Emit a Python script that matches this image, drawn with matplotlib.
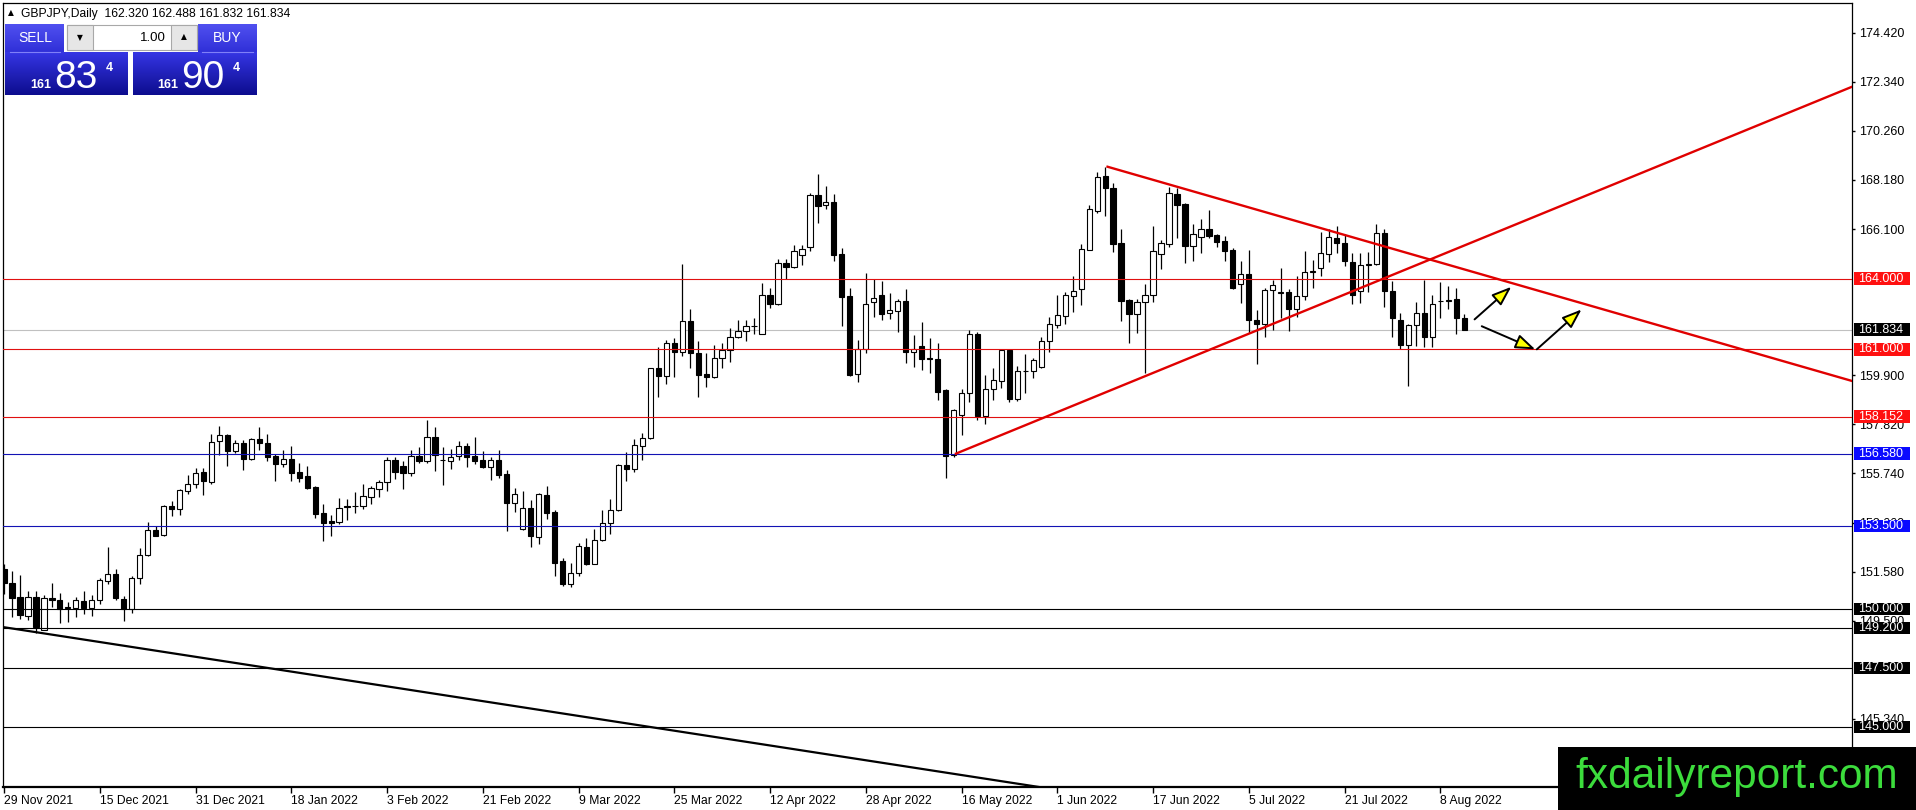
import matplotlib
matplotlib.use('Agg')
import matplotlib.pyplot as plt
import matplotlib.transforms as mtransforms
from matplotlib.patches import Rectangle
from matplotlib.colors import to_rgb
import numpy as np

plt.rcParams['font.family'] = ['Liberation Sans', 'DejaVu Sans']

symbol_info = 'GBPJPY,Daily  162.320 162.488 161.832 161.834'

# daily OHLC, 29 Nov 2021 .. 11 Aug 2022
opens = [151.70, 151.11, 150.49, 149.71, 150.50, 149.12, 150.47, 150.39, 150.08, 150.05,
         150.32, 150.02, 150.39, 151.18, 151.46, 150.43, 150.01, 151.32, 152.28, 153.36,
         153.13, 154.38, 154.25, 155.00, 155.31, 155.80, 155.39, 157.12, 157.37, 156.71,
         157.02, 156.34, 157.18, 157.01, 156.47, 156.16, 156.37, 155.79, 155.62, 155.17,
         154.08, 153.71, 153.68, 154.35, 154.35, 154.36, 154.76, 155.10, 155.37, 156.33,
         156.04, 155.78, 156.47, 156.27, 157.29, 156.33, 156.27, 156.48, 156.89, 156.47,
         156.33, 156.02, 156.30, 155.73, 154.50, 153.40, 154.29, 153.05, 154.84, 154.11,
         152.02, 151.07, 151.53, 152.62, 151.91, 152.93, 153.66, 154.18, 156.09, 155.94,
         156.91, 157.26, 160.19, 159.88, 161.29, 160.89, 162.19, 160.86, 159.97, 159.83,
         160.65, 160.99, 161.54, 161.78, 161.98, 161.66, 163.32, 162.91, 164.64, 164.50,
         165.02, 165.32, 167.54, 167.10, 167.23, 165.06, 163.25, 159.97, 161.03, 162.99,
         163.30, 162.52, 162.63, 163.04, 160.89, 161.13, 160.62, 160.61, 159.27, 156.51,
         158.23, 159.13, 161.64, 158.16, 159.30, 159.65, 160.99, 158.91, 160.07, 160.07,
         160.26, 161.36, 162.05, 162.42, 163.27, 163.54, 165.23, 166.87, 168.34, 167.82,
         165.49, 163.08, 162.48, 163.01, 163.32, 165.06, 165.46, 167.58, 167.18, 165.39,
         165.77, 166.12, 165.84, 165.59, 165.20, 163.79, 164.19, 162.24, 162.09, 163.51,
         163.40, 163.44, 162.69, 163.25, 164.27, 164.43, 165.06, 165.74, 165.49, 164.71,
         163.46, 164.58, 164.60, 165.95, 163.46, 162.24, 161.20, 162.05, 162.56, 161.53,
         163.04, 163.04, 163.13, 162.320]
highs = [151.92, 151.59, 151.45, 150.76, 150.76, 150.57, 151.10, 150.67, 150.29, 150.50,
         150.74, 150.57, 151.32, 152.62, 151.70, 150.53, 151.38, 152.58, 153.68, 153.50,
         154.42, 154.56, 155.10, 155.66, 155.99, 155.99, 157.42, 157.74, 157.43, 157.17,
         157.17, 157.26, 157.71, 157.43, 156.58, 156.72, 156.89, 156.20, 156.04, 155.20,
         154.46, 153.99, 154.72, 154.67, 154.94, 155.31, 155.22, 155.45, 156.44, 156.44,
         156.27, 156.72, 156.84, 158.02, 157.71, 156.84, 156.79, 157.10, 157.01, 157.29,
         156.69, 156.44, 156.75, 155.87, 155.14, 154.98, 154.63, 154.91, 155.20, 154.18,
         152.17, 151.96, 152.79, 153.00, 153.37, 154.18, 154.67, 156.13, 156.65, 157.19,
         157.46, 160.23, 161.08, 161.39, 161.46, 164.61, 162.69, 161.34, 160.86, 161.17,
         161.29, 161.92, 162.26, 162.24, 162.31, 163.83, 163.58, 164.82, 164.85, 165.42,
         165.42, 167.61, 168.43, 167.92, 167.58, 165.28, 163.58, 161.39, 164.22, 164.00,
         163.90, 163.37, 163.15, 163.54, 161.60, 162.14, 161.50, 161.29, 159.30, 158.49,
         159.30, 161.84, 161.74, 159.90, 160.19, 161.00, 161.00, 160.29, 160.79, 160.65,
         161.53, 162.35, 163.30, 163.44, 164.10, 165.45, 167.11, 168.50, 168.74, 168.07,
         166.10, 163.15, 163.15, 163.75, 166.22, 165.63, 167.86, 167.82, 167.22, 166.31,
         166.52, 166.90, 165.91, 165.80, 165.30, 164.75, 165.23, 162.66, 163.62, 163.96,
         164.43, 163.54, 164.10, 165.16, 164.78, 165.98, 166.08, 166.22, 165.91, 165.09,
         165.09, 165.13, 166.31, 166.08, 163.89, 162.52, 162.07, 163.01, 163.93, 163.32,
         163.86, 163.68, 163.62, 162.488]
lows = [150.64, 149.65, 149.56, 149.51, 148.99, 149.09, 150.08, 149.40, 149.44, 149.65,
        149.80, 149.68, 150.19, 151.04, 150.39, 149.48, 149.82, 151.07, 152.23, 153.08,
        153.10, 153.94, 153.97, 154.86, 155.14, 154.81, 155.31, 156.51, 156.06, 156.61,
        155.87, 156.30, 156.75, 156.27, 155.42, 156.02, 155.42, 155.38, 155.07, 153.87,
        152.88, 153.08, 153.61, 153.75, 154.07, 154.24, 154.46, 154.74, 155.00, 155.49,
        155.08, 155.63, 156.19, 156.19, 155.85, 155.25, 155.92, 156.30, 156.02, 156.13,
        155.95, 155.48, 155.55, 153.30, 154.11, 153.36, 152.62, 152.76, 153.80, 151.38,
        150.95, 150.93, 151.38, 151.84, 151.89, 152.88, 153.19, 154.15, 155.42, 155.80,
        156.33, 157.22, 158.98, 159.55, 159.83, 160.72, 160.23, 158.98, 159.41, 159.80,
        160.21, 160.47, 161.46, 161.36, 161.63, 161.63, 162.77, 162.90, 164.00, 164.43,
        164.57, 165.18, 166.36, 166.94, 164.75, 162.00, 159.88, 159.62, 160.85, 162.35,
        162.26, 162.28, 161.74, 160.44, 160.26, 160.12, 160.00, 158.84, 155.55, 156.44,
        157.39, 158.77, 158.00, 157.85, 158.84, 159.38, 158.75, 158.80, 159.13, 159.79,
        160.23, 160.89, 161.92, 162.09, 162.59, 162.87, 165.20, 166.80, 166.66, 165.13,
        162.21, 161.27, 161.70, 160.00, 163.01, 164.40, 165.32, 165.74, 164.64, 164.75,
        165.09, 165.70, 165.35, 164.75, 163.54, 162.97, 161.70, 160.36, 161.53, 161.81,
        162.31, 161.78, 162.38, 163.08, 163.61, 164.10, 164.71, 165.09, 164.53, 162.94,
        162.97, 163.44, 164.57, 162.80, 161.53, 161.03, 159.44, 161.15, 161.08, 161.10,
        162.31, 162.69, 161.67, 161.832]
closes = [151.10, 150.47, 149.73, 150.50, 149.23, 150.47, 150.38, 150.01, 150.02, 150.39,
          150.02, 150.39, 151.21, 151.46, 150.46, 150.01, 151.32, 152.30, 153.36, 153.10,
          154.38, 154.24, 155.03, 155.31, 155.78, 155.42, 157.09, 157.37, 156.69, 157.02,
          156.36, 157.18, 157.01, 156.44, 156.16, 156.37, 155.78, 155.55, 155.13, 154.04,
          153.64, 153.66, 154.29, 154.30, 154.38, 154.77, 155.11, 155.37, 156.33, 155.80,
          155.76, 156.47, 156.27, 157.29, 156.54, 156.30, 156.44, 156.89, 156.44, 156.26,
          156.02, 156.30, 155.69, 154.50, 154.88, 154.29, 153.09, 154.86, 154.07, 151.94,
          151.04, 151.53, 152.65, 151.91, 152.93, 153.66, 154.21, 156.09, 155.92, 156.96,
          157.26, 160.19, 159.88, 161.29, 160.89, 162.22, 160.85, 159.93, 159.83, 160.65,
          160.99, 161.54, 161.76, 162.00, 162.01, 163.32, 162.94, 164.64, 164.50, 165.15,
          165.27, 167.54, 167.08, 167.23, 165.01, 163.23, 159.90, 161.03, 162.94, 163.18,
          162.49, 162.66, 163.04, 160.89, 161.03, 160.61, 160.60, 159.20, 156.48, 158.42,
          159.13, 161.64, 158.16, 159.30, 159.72, 160.99, 158.91, 160.07, 160.10, 160.54,
          161.36, 162.07, 162.45, 163.30, 163.47, 165.25, 166.93, 168.29, 167.82, 165.46,
          163.06, 162.48, 163.01, 163.32, 165.16, 165.49, 167.64, 167.11, 165.39, 165.91,
          166.12, 165.81, 165.56, 165.18, 163.58, 164.19, 162.26, 162.07, 163.51, 163.72,
          163.42, 162.69, 163.25, 164.26, 164.30, 165.09, 165.77, 165.49, 164.75, 163.32,
          164.57, 164.61, 165.95, 163.46, 162.34, 161.20, 162.05, 162.56, 161.53, 162.94,
          163.07, 163.11, 162.31, 161.834]

date_labels = ['29 Nov 2021', '15 Dec 2021', '31 Dec 2021', '18 Jan 2022', '3 Feb 2022',
               '21 Feb 2022', '9 Mar 2022', '25 Mar 2022', '12 Apr 2022', '28 Apr 2022',
               '16 May 2022', '1 Jun 2022', '17 Jun 2022', '5 Jul 2022', '21 Jul 2022',
               '8 Aug 2022']
date_label_step = 12

price_ticks = [174.42, 172.34, 170.26, 168.18, 166.10, 159.90, 157.82,
               155.74, 153.66, 151.58, 149.50, 145.34]

levels = [164.000, 161.000, 158.152, 156.580, 153.500, 150.000, 149.200, 147.500, 145.000]
level_colors = ['#e01010', '#e01010', '#e01010', '#1212b4', '#1212b4',
                'black', 'black', 'black', 'black']
label_colors = ['#ff1010', '#ff1010', '#ff1010', '#0a0aff', '#0a0aff',
                'black', 'black', 'black', 'black']
bid = 161.834

# trend lines as (bar, price) anchor pairs
rising_red = [(119.3, 156.58), (231.6, 172.13)]
falling_red = [(138.3, 168.74), (231.6, 159.66)]
falling_black = [(-0.16, 149.23), (130.1, 142.43)]

# projected path arrows (start, end)
arrows = [((184.3, 162.27), (188.9, 163.65)),
          ((185.2, 161.98), (191.9, 161.00)),
          ((192.1, 161.00), (197.7, 162.69))]

W, H = 1916, 810
fig = plt.figure(figsize=(W / 100, H / 100), dpi=100)
ax = fig.add_axes([3 / W, (H - 787) / H, 1849 / W, 784 / H])

x = np.arange(len(opens))
o = np.array(opens)
c = np.array(closes)
up = c >= o
bottoms = np.minimum(o, c)
heights = np.maximum(np.abs(c - o), 0.02)

ax.vlines(x, lows, highs, color='black', lw=0.9, zorder=2)
ax.bar(x, heights, bottom=bottoms, width=0.66,
       color=np.where(up, 'white', 'black'), edgecolor='black', linewidth=0.8, zorder=3)

for lv, col in zip(levels, level_colors):
    ax.axhline(lv, color=col, lw=0.8, zorder=4)
ax.axhline(bid, color='#c0c0c0', lw=0.8, zorder=1)

xmin, xmax = -0.125, 231.6
for (x1, y1), (x2, y2) in [rising_red, falling_red]:
    slope = (y2 - y1) / (x2 - x1)
    ax.plot([x1, xmax], [y1, y1 + slope * (xmax - x1)], color='#e00000', lw=1.7, zorder=5)
(bx1, by1), (bx2, by2) = falling_black
ax.axline((bx1, by1), (bx2, by2), color='black', lw=1.6, zorder=5)

for (sx, sy), (ex, ey) in arrows:
    ax.annotate('', xy=(ex, ey), xytext=(sx, sy),
                arrowprops=dict(arrowstyle='-|>,head_length=0.6,head_width=0.22',
                                mutation_scale=20, fc='yellow', ec='black', lw=1.4,
                                shrinkA=0, shrinkB=0), zorder=6)

ax.set_xlim(xmin, xmax)
ax.set_ylim(142.45, 175.68)

ax.set_xticks(np.arange(len(date_labels)) * date_label_step)
ax.set_xticklabels(date_labels, ha='left', fontsize=8.7)
ax.tick_params(axis='x', length=4, width=1, pad=2, direction='out')

ax.yaxis.tick_right()
ax.set_yticks(price_ticks)
ax.set_yticklabels(['%.3f' % p for p in price_ticks], fontsize=9)
ax.tick_params(axis='y', length=2.5, width=1, pad=2.5, direction='out')

for s in ['left', 'top', 'right']:
    ax.spines[s].set_linewidth(0.9)
ax.spines['bottom'].set_linewidth(1.6)

# price labels on the right scale
trans = mtransforms.blended_transform_factory(fig.transFigure, ax.transData)
box_h = 12.4 / 23.59
for lv, col in zip(levels + [bid], label_colors + ['black']):
    ax.add_patch(Rectangle((1854 / W, lv - box_h / 2), 56 / W, box_h, transform=trans,
                           facecolor=col, edgecolor='none', clip_on=False, zorder=7))
    ax.text(1881 / W, lv, '%.3f' % lv, transform=trans, color='white', fontsize=9,
            ha='center', va='center', clip_on=False, zorder=8)

# overlay in pixel coordinates for the terminal decorations
ui = fig.add_axes([0, 0, 1, 1], zorder=10)
ui.axis('off')


def gradient_box(x0, y0, x1, y1, top, bottom):
    c0 = np.array(to_rgb(top))
    c1 = np.array(to_rgb(bottom))
    t = np.linspace(0, 1, 64)[:, None, None]
    ui.imshow(c0 + (c1 - c0) * t, extent=(x0, x1, y1, y0), aspect='auto',
              interpolation='bilinear', zorder=1)


gradient_box(5, 24, 64, 52, '#5050f0', '#3030d8')
gradient_box(198, 24, 257, 52, '#5050f0', '#3030d8')
gradient_box(5, 52, 128, 95, '#3636e4', '#0c0c8e')
gradient_box(133, 52, 257, 95, '#3636e4', '#0c0c8e')
ui.plot([10, 60], [51.5, 51.5], color='#8080f8', lw=0.8, zorder=2)
ui.plot([202, 253], [51.5, 51.5], color='#8080f8', lw=0.8, zorder=2)

ui.add_patch(Rectangle((67, 25), 130, 25, facecolor='white', edgecolor='#a8a8a8', lw=0.8, zorder=2))
ui.add_patch(Rectangle((67, 25), 26, 25, facecolor='#e6e6e6', edgecolor='#a8a8a8', lw=0.8, zorder=3))
ui.add_patch(Rectangle((171, 25), 26, 25, facecolor='#e6e6e6', edgecolor='#a8a8a8', lw=0.8, zorder=3))
ui.text(80, 38, '\u25bc', fontsize=5.5, family='DejaVu Sans', ha='center', va='center', zorder=4)
ui.text(184, 37, '\u25b2', fontsize=5.5, family='DejaVu Sans', ha='center', va='center', zorder=4)
ui.text(166, 38, '1.00', fontsize=9.5, ha='right', va='center', zorder=4)

ui.text(35, 38, 'SELL', fontsize=10, color='white', ha='center', va='center', zorder=4)
ui.text(227, 38, 'BUY', fontsize=10, color='white', ha='center', va='center', zorder=4)
for x0, big in [(30, '83'), (157, '90')]:
    ui.text(x0, 88, '161', fontsize=9, weight='bold', color='white', va='baseline', zorder=4)
    ui.text(x0 + 24, 88, big, fontsize=28, color='white', va='baseline', zorder=4)
    ui.text(x0 + 76, 71, '4', fontsize=9, weight='bold', color='white', va='baseline', zorder=4)

ui.text(11, 13, '\u25b2', fontsize=5.5, family='DejaVu Sans', ha='center', va='center')
ui.text(21, 13.5, symbol_info, fontsize=8.7, ha='left', va='center')

ui.add_patch(Rectangle((1558, 747), 358, 63, facecolor='black', edgecolor='none', zorder=5))
ui.text(1575, 788, 'fxdailyreport.com', fontsize=30.5, color='#3cdc3c',
        ha='left', va='baseline', zorder=6)

ui.set_xlim(0, W)
ui.set_ylim(H, 0)

fig.savefig('out.png', dpi=100, facecolor='white')
